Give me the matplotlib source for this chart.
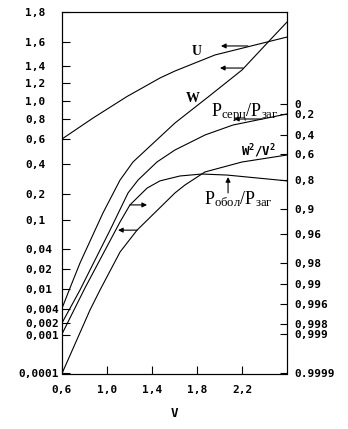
import numpy as np
import matplotlib
matplotlib.use("Agg")
import matplotlib.pyplot as plt
from matplotlib.ticker import NullLocator
from matplotlib.transforms import ScaledTranslation

# ---------------- data ----------------
u_v = [0.6, 0.876, 1.178, 1.471, 1.604, 1.96, 2.316, 2.6]
u_val = [0.6, 0.811, 1.05, 1.259, 1.341, 1.492, 1.575, 1.633]

w_v = [0.6, 0.671, 0.76, 0.964, 1.116, 1.231, 1.604, 1.898, 2.2, 2.449, 2.6]
w_val = [0.0042, 0.0105, 0.026, 0.127, 0.293, 0.416, 0.76, 1.044, 1.353, 1.613, 1.733]

pc_v = [0.6, 0.76, 0.849, 1.027, 1.187, 1.276, 1.444, 1.604, 1.871, 2.12, 2.6]
pc_val = [0.002, 0.0097, 0.0195, 0.079, 0.207, 0.293, 0.416, 0.512, 0.64, 0.74, 0.856]

w2_v = [0.6, 0.849, 0.938, 1.116, 1.267, 1.604, 1.693, 1.871, 2.2, 2.6]
w2_val = [0.0001, 0.00386, 0.0097, 0.037, 0.079, 0.207, 0.26, 0.347, 0.416, 0.472]

# plotted against the right-hand axis
po_v = [0.6, 0.804, 1.116, 1.204, 1.356, 1.471, 1.649, 1.844, 2.067, 2.6]
po_val = [0.999, 0.9912, 0.931, 0.886, 0.828, 0.803, 0.769, 0.754, 0.762, 0.803]

x_ticks = [0.6, 1.0, 1.4, 1.8, 2.2]
x_labels = ["0,6", "1,0", "1,4", "1,8", "2,2"]

left_ticks = [0.0001, 0.001, 0.002, 0.004, 0.01, 0.02, 0.04, 0.1, 0.2, 0.4,
              0.6, 0.8, 1.0, 1.2, 1.4, 1.6, 1.8]
left_labels = ["0,0001", "0,001", "0,002", "0,004", "0,01", "0,02", "0,04", "0,1",
               "0,2", "0,4", "0,6", "0,8", "1,0", "1,2", "1,4", "1,6", "1,8"]

right_ticks = [0, 0.2, 0.4, 0.6, 0.8, 0.9, 0.96, 0.98, 0.99, 0.996, 0.998, 0.999, 0.9999]
right_labels = ["0", "0,2", "0,4", "0,6", "0,8", "0,9", "0,96", "0,98", "0,99",
                "0,996", "0,998", "0,999", "0.9999"]

# ---------------- non-uniform axis scales (layout of the printed scale) ----------------
L_POS = np.array([373.5, 335, 323, 309, 289, 269, 249, 220, 194, 164,
                  139, 119, 101, 83, 66, 42, 12], float)
L_VAL = np.array(left_ticks, float)

R_VAL = np.array([-0.5] + right_ticks, float)
R_POS = np.array([12, 104, 114, 135, 154, 180, 209, 234, 263, 284, 304, 324, 334, 373.5], float)


def fwd_l(v):
    return -np.interp(np.asarray(v, float), L_VAL, L_POS)


def inv_l(t):
    return np.interp(-np.asarray(t, float), L_POS[::-1], L_VAL[::-1])


def fwd_r(p):
    return -np.interp(np.asarray(p, float), R_VAL, R_POS)


def inv_r(t):
    return np.interp(-np.asarray(t, float), R_POS, R_VAL)


W, H = 348, 429
fig = plt.figure(figsize=(W / 100, H / 100), dpi=100)
ax = fig.add_axes([62 / W, (H - 373.5) / H, (287 - 62) / W, (373.5 - 12) / H])

tick_font = dict(family="DejaVu Sans Mono", weight="bold", size=8)
lw = 0.8

ax.set_yscale("function", functions=(fwd_l, inv_l))
for v, y in [(u_v, u_val), (w_v, w_val), (pc_v, pc_val), (w2_v, w2_val)]:
    ax.plot(v, y, color="black", lw=lw)

ax.set_xlim(0.6, 2.6)
ax.set_ylim(0.0001, 1.8)
ax.set_xticks(x_ticks, x_labels)
ax.set_yticks(left_ticks, left_labels)
ax.yaxis.set_minor_locator(NullLocator())
ax.xaxis.set_minor_locator(NullLocator())
ax.tick_params(axis="y", direction="in", length=6, width=lw, left=True, right=False,
               pad=26.6)
ax.tick_params(axis="x", direction="in", length=6, width=lw, top=False, pad=8)
for lbl in ax.get_yticklabels():
    lbl.set_fontproperties(matplotlib.font_manager.FontProperties(**tick_font))
    lbl.set_horizontalalignment("left")
ax.get_yticklabels()[0].set_transform(
    ax.get_yticklabels()[0].get_transform() + ScaledTranslation(-7 / 100, 0, fig.dpi_scale_trans))
for lbl in ax.get_xticklabels():
    lbl.set_fontproperties(matplotlib.font_manager.FontProperties(**tick_font))
for s in ax.spines.values():
    s.set_linewidth(lw)

ax2 = ax.twinx()
ax2.set_yscale("function", functions=(fwd_r, inv_r))
ax2.plot(po_v, po_val, color="black", lw=lw)
ax2.set_ylim(-0.5, 0.9999)
ax2.set_yticks(right_ticks, right_labels)
ax2.yaxis.set_minor_locator(NullLocator())
ax2.tick_params(axis="y", direction="in", length=5, width=lw, right=True, left=False, pad=5)
for lbl in ax2.get_yticklabels():
    lbl.set_fontproperties(matplotlib.font_manager.FontProperties(**tick_font))
for s in ax2.spines.values():
    s.set_linewidth(lw)

ax.set_xlabel("V", fontdict=dict(family="DejaVu Sans Mono", weight="bold", size=9), labelpad=9)

# ---------------- labels and arrows ----------------
plt.rcParams["mathtext.fontset"] = "custom"
plt.rcParams["mathtext.rm"] = "Liberation Serif"
plt.rcParams["mathtext.bf"] = "DejaVu Sans Mono:bold"

ax.text(1.80, 1.517, "U", ha="center", va="center", family="Liberation Serif",
        weight="bold", size=10)
ax.text(1.764, 1.033, "W", ha="center", va="center", family="Liberation Serif",
        weight="bold", size=10)
ax.text(2.227, 0.833, r"$\mathrm{P_{серц}/P_{заг}}$", ha="center", va="baseline", size=13)
ax.text(2.342, 0.504, r"W$^{\mathbf{2}}$/V$^{\mathbf{2}}$", ha="center", va="center",
        family="DejaVu Sans Mono", weight="bold", size=9)
ax.text(2.169, 0.160, r"$\mathrm{P_{обол}/P_{заг}}$", ha="center", va="baseline", size=13)

arrow = dict(arrowstyle="-|>", color="black", lw=lw, mutation_scale=7,
             shrinkA=0, shrinkB=0)
ax.annotate("", xy=(2.013, 1.567), xytext=(2.253, 1.567), arrowprops=arrow)
ax.annotate("", xy=(2.004, 1.376), xytext=(2.209, 1.376), arrowprops=arrow)
ax.annotate("", xy=(2.129, 0.80), xytext=(2.378, 0.80), arrowprops=arrow)
ax.annotate("", xy=(1.356, 0.158), xytext=(1.204, 0.158), arrowprops=arrow)
ax.annotate("", xy=(1.098, 0.079), xytext=(1.267, 0.079), arrowprops=arrow)
ax.annotate("", xy=(2.076, 0.313), xytext=(2.076, 0.207), arrowprops=arrow)

fig.savefig("out.png", dpi=100)
